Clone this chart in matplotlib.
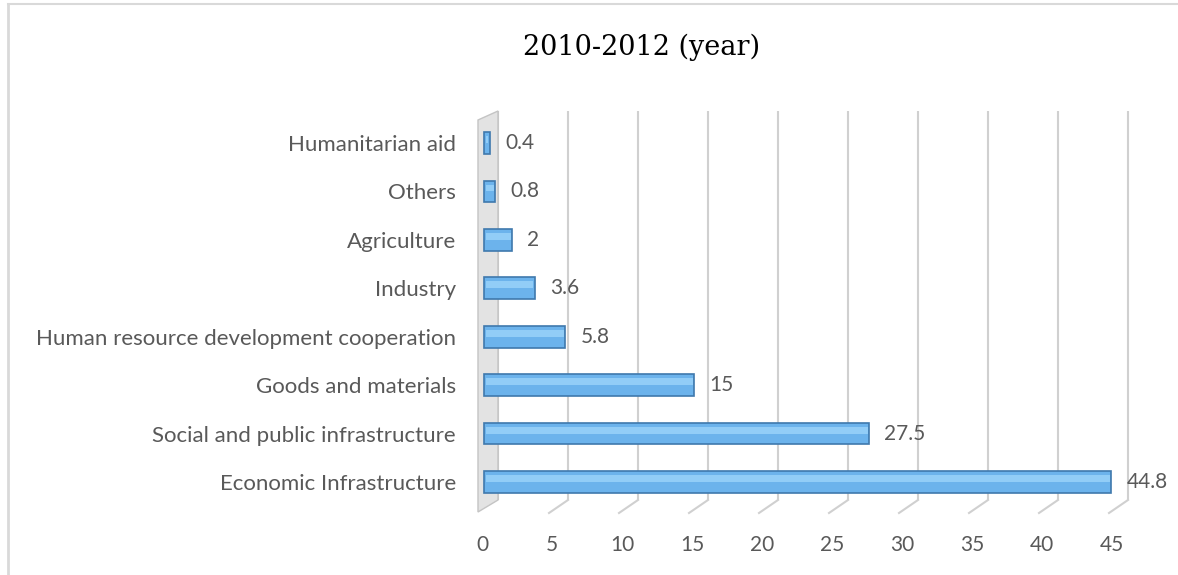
import numpy as np
import matplotlib.pyplot as plt
from matplotlib.patches import Polygon

categories = ['Economic Infrastructure', 'Social and public infrastructure',
              'Goods and materials', 'Human resource development cooperation',
              'Industry', 'Agriculture', 'Others', 'Humanitarian aid']
values = [44.8, 27.5, 15, 5.8, 3.6, 2, 0.8, 0.4]
value_labels = ['44.8', '27.5', '15', '5.8', '3.6', '2', '0.8', '0.4']
xticks = [0, 5, 10, 15, 20, 25, 30, 35, 40, 45]

plt.rcParams['font.family'] = ['Lato', 'DejaVu Sans']
text_color = '#595959'

W, H = 1178, 575
fig = plt.figure(figsize=(W / 100, H / 100), dpi=100)

# pixel geometry of the plot area (front plane)
px0, px_per = 482, 14.0          # x=0 pixel, pixels per unit
py0, py_per = 482, 48.43         # first bar centre pixel, pixels per category
ax_l, ax_r, ax_t, ax_b = 470, 1135, 100, 525
ax = fig.add_axes([ax_l / W, 1 - ax_b / H, (ax_r - ax_l) / W, (ax_b - ax_t) / H])
ax.set_xlim((ax_l - px0) / px_per, (ax_r - px0) / px_per)
ax.set_ylim((py0 - ax_b) / py_per, (py0 - ax_t) / py_per)

# back wall gridlines with the 3d floor slant
dx_back = 16 / px_per
dx_slant = 19 / px_per
y_top = (py0 - 111) / py_per
y_bot = (py0 - 500) / py_per
y_front = (py0 - 513) / py_per
for v in xticks:
    ax.plot([v + dx_back, v + dx_back], [y_top, y_bot], color='#d0d0d0', lw=1.5,
            solid_capstyle='butt', zorder=1)
    if v > 0:
        ax.plot([v + dx_back, v + dx_back - dx_slant], [y_bot, y_front],
                color='#d0d0d0', lw=1.5, zorder=1)

# left side wall
wall = Polygon([(-4 / px_per, (py0 - 120) / py_per), (dx_back, y_top),
                (dx_back, y_bot), (-4 / px_per, (py0 - 512) / py_per)],
               closed=True, facecolor='#e3e3e3', edgecolor='#c4c4c4', lw=1, zorder=1)
ax.add_patch(wall)

ypos = np.arange(len(categories))
vals = np.array(values)
bars = ax.barh(ypos, vals, height=0.45, left=0.15, color='#6cb3ec',
               edgecolor='#3f79ad', lw=1.2, zorder=3)
# highlight stripe for the glossy look
ax.barh(ypos + 0.07, np.maximum(vals - 0.2, 0.05), height=0.14, left=0.25,
        color='#92cdf7', edgecolor='none', zorder=4)

for y, v, lab in zip(ypos, values, value_labels):
    ax.annotate(lab, (v + 0.15, y), xytext=(11, 0), textcoords='offset points',
                ha='left', va='center', fontsize=15, color=text_color)

ax.set_yticks(ypos)
ax.set_yticklabels(categories, fontsize=16, color=text_color)
ax.set_xticks(xticks)
ax.set_xticklabels([str(t) for t in xticks], fontsize=15, color=text_color)
ax.tick_params(length=0)
ax.tick_params(axis='x', pad=7)
ax.tick_params(axis='y', pad=10)
for s in ax.spines.values():
    s.set_visible(False)

fig.text(642 / W, 1 - 47 / H, '2010-2012 (year)', ha='center', va='center',
         fontsize=19.5, family=['DejaVu Serif'], color='#000000')

# chart border
fig.add_artist(plt.Line2D([8 / W, 8 / W], [0, 1 - 4 / H], color='#d9d9d9', lw=2))
fig.add_artist(plt.Line2D([8 / W, 1], [1 - 4 / H, 1 - 4 / H], color='#d9d9d9', lw=1.5))

fig.savefig('out.png', dpi=100)
